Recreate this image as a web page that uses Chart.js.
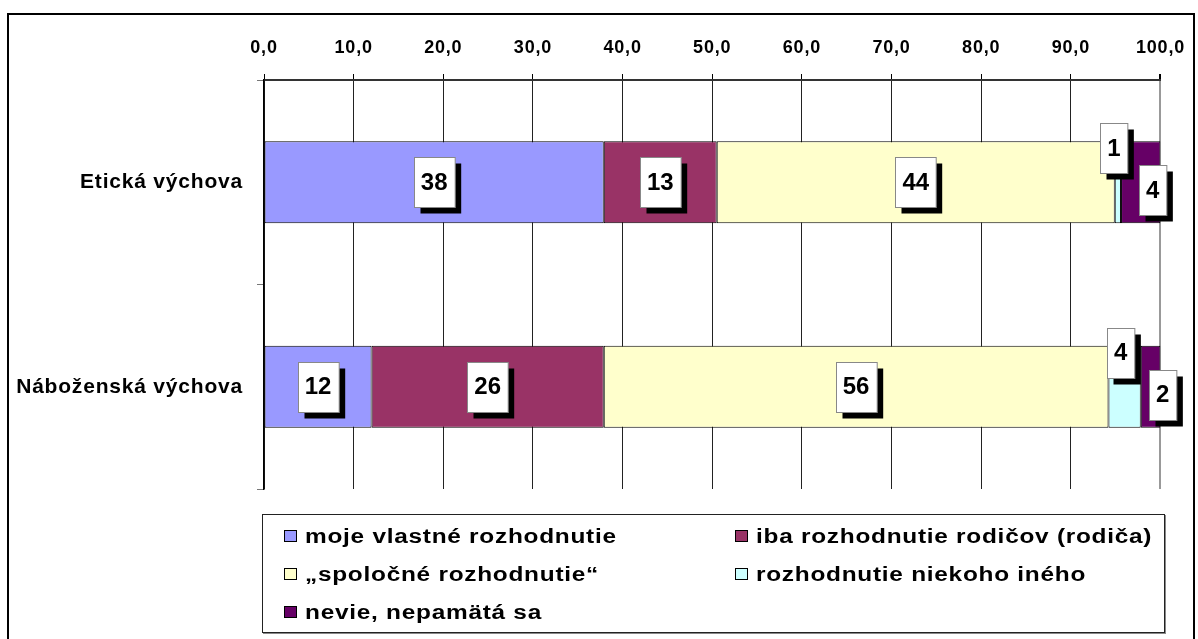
<!DOCTYPE html>
<html lang="sk">
<head>
<meta charset="utf-8">
<script src="https://cdn.jsdelivr.net/npm/chart.js@4.4.1/dist/chart.umd.min.js"></script>
<style>
  html, body { margin: 0; padding: 0; background: #fff; }
  #wrap { position: relative; width: 1198px; height: 639px; overflow: hidden; font-family: 'Liberation Sans', Arial, sans-serif; }
  #frame { position: absolute; left: 7px; top: 13px; width: 1184px; height: 700px; border: 2px solid #000; }
  #chartBox { position: absolute; left: 0; top: 0; width: 1198px; height: 639px; }
  #legend {
    position: absolute; left: 262px; top: 514px; width: 903px; height: 119px;
    box-sizing: border-box; border: 1px solid #222; box-shadow: 1px 1px 0 #888;
    padding: 2px 0 0 21px; background: #fff;
    display: grid; grid-template-columns: 451px auto; grid-auto-rows: 38px;
  }
  .item { display: flex; align-items: center; font-weight: bold; font-size: 20px; color: #000; white-space: nowrap; }
  .item .txt { display: inline-block; letter-spacing: 0.6px; transform: scaleX(1.22); transform-origin: left center; }
  .swatch { width: 13px; height: 12px; box-sizing: border-box; border: 1px solid #000; margin-right: 8px; flex: none; }
</style>
</head>
<body>
<div id="wrap">
  <div id="frame"></div>
  <div id="chartBox"><canvas id="decisionChart"></canvas></div>
  <div id="legend"></div>
</div>
<script>
const categories = ['Etická výchova', 'Náboženská výchova'];
const seriesNames = [
  'moje vlastné rozhodnutie',
  'iba rozhodnutie rodičov (rodiča)',
  '„spoločné rozhodnutie“',
  'rozhodnutie niekoho iného',
  'nevie, nepamätá sa'
];
const ownDecision = [37.9, 12.0];
const parentsOnly = [12.6, 25.9];
const jointDecision = [44.4, 56.3];
const someoneElse = [0.7, 3.6];
const dontKnow = [4.4, 2.2];
const seriesValues = [ownDecision, parentsOnly, jointDecision, someoneElse, dontKnow];
const seriesColors = ['#9999FF', '#993366', '#FFFFCC', '#CCFFFF', '#660066'];

const FONT = '"Liberation Sans", Arial, sans-serif';

// white value boxes with a black drop shadow, like the Excel labels
const labelBoxes = {
  id: 'labelBoxes',
  beforeDraw(chart) {
    chart.ctx.letterSpacing = '0.8px';
  },
  afterDatasetsDraw(chart) {
    const ctx = chart.ctx;
    ctx.save();
    ctx.letterSpacing = '0px';
    ctx.font = 'bold 24px ' + FONT;
    ctx.textAlign = 'center';
    ctx.textBaseline = 'middle';
    chart.data.datasets.forEach((ds, di) => {
      chart.getDatasetMeta(di).data.forEach((bar, i) => {
        const txt = String(Math.round(ds.data[i]));
        const w = ctx.measureText(txt).width + 14;
        const h = 50;
        let x = (bar.x + bar.base) / 2;
        let y = bar.y;
        const narrow = Math.abs(bar.x - bar.base) < 50;
        if (narrow && di === 3) { x -= 4; y -= 34; }
        if (narrow && di === 4) { x += 12; y += 8; }
        const left = Math.round(x - w / 2) + 0.5;
        const top = Math.round(y - h / 2) + 0.5;
        ctx.fillStyle = '#000';
        ctx.fillRect(left + 6, top + 6, w, h);
        ctx.fillStyle = '#fff';
        ctx.fillRect(left, top, w, h);
        ctx.strokeStyle = '#888';
        ctx.lineWidth = 1;
        ctx.strokeRect(left, top, w, h);
        ctx.fillStyle = '#000';
        ctx.fillText(txt, x, y + 1);
      });
    });
    ctx.restore();
  }
};

const chart = new Chart(document.getElementById('decisionChart'), {
  type: 'bar',
  data: {
    labels: categories,
    datasets: seriesNames.map((name, k) => ({
      label: name,
      data: seriesValues[k],
      backgroundColor: seriesColors[k],
      borderColor: '#000',
      borderWidth: 1,
      borderSkipped: false,
      categoryPercentage: 0.4,
      barPercentage: 1.0
    }))
  },
  options: {
    indexAxis: 'y',
    responsive: true,
    maintainAspectRatio: false,
    animation: false,
    layout: { padding: { top: 20, right: 34, bottom: 150, left: 0 } },
    plugins: { legend: { display: false }, tooltip: { enabled: false } },
    scales: {
      x: {
        position: 'top',
        stacked: true,
        min: 0,
        max: 100,
        afterFit: s => { s.height = 60; },
        ticks: {
          stepSize: 10,
          color: '#000',
          padding: 15,
          font: { family: FONT, size: 18, weight: 'bold' },
          callback: v => Number(v).toFixed(1).replace('.', ',')
        },
        grid: {
          color: c => (c.tick && c.tick.value === 100 ? '#999' : '#222'),
          lineWidth: c => (c.tick && c.tick.value === 100 ? 2 : 1),
          tickColor: '#000',
          tickLength: 6
        },
        border: { color: '#333', width: 2 }
      },
      y: {
        stacked: true,
        afterFit: s => { s.width = 264; },
        ticks: {
          color: '#000',
          padding: 14,
          font: { family: FONT, size: 21, weight: 'bold' }
        },
        grid: { offset: true, drawOnChartArea: false, tickLength: 7, color: '#777', tickColor: '#777' },
        border: { color: '#000', width: 1.5 }
      }
    }
  },
  plugins: [labelBoxes]
});

const legendEl = document.getElementById('legend');
legendEl.innerHTML = chart.data.datasets.map(ds => `
  <div class="item"><span class="swatch" style="background:${ds.backgroundColor}"></span><span class="txt">${ds.label}</span></div>
`).join('');
</script>
</body>
</html>
